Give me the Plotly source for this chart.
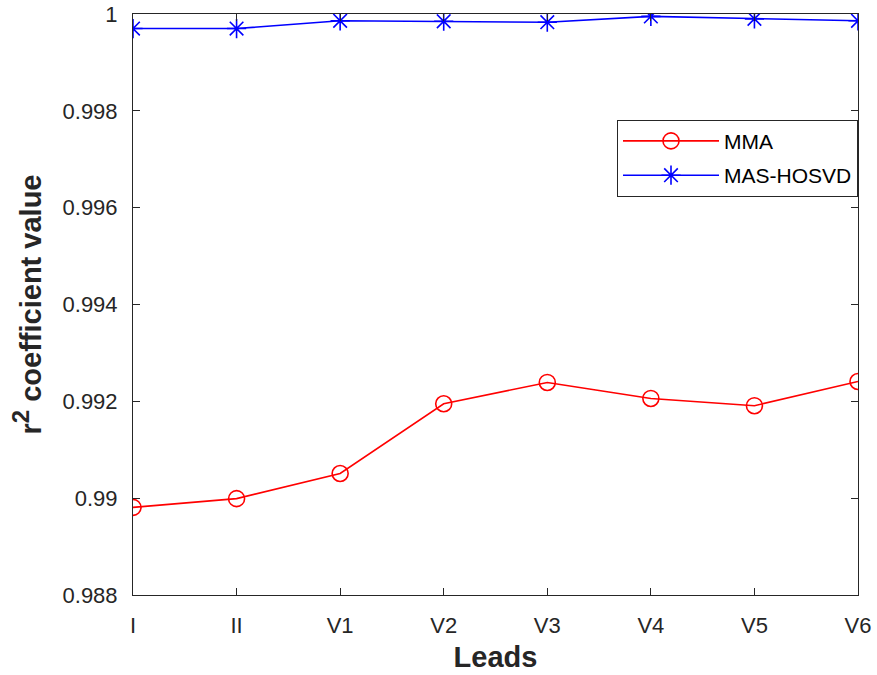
import plotly.graph_objects as go

leads = ["I", "II", "V1", "V2", "V3", "V4", "V5", "V6"]
mma = [0.98981, 0.98999, 0.99051, 0.99195, 0.99239, 0.99206, 0.99191, 0.99241]
mas_hosvd = [0.99970, 0.99970, 0.99986, 0.99985, 0.99983, 0.99995, 0.99990, 0.99986]
y_ticks = [0.988, 0.99, 0.992, 0.994, 0.996, 0.998, 1.0]
y_tick_text = ["0.988", "0.99", "0.992", "0.994", "0.996", "0.998", "1"]

x_pos = list(range(len(leads)))
axis_color = "#262626"
font_family = "Liberation Sans, Arial, sans-serif"

fig = go.Figure()
fig.add_trace(go.Scatter(
    x=x_pos, y=mma, name="MMA", mode="lines+markers", legendgroup="mma",
    line=dict(color="#ff0000", width=1.6),
    marker=dict(symbol="circle-open", size=16, color="#ff0000", line=dict(width=1.6)),
))
fig.add_trace(go.Scatter(
    x=x_pos, y=mas_hosvd, name="MAS-HOSVD", mode="lines+markers", legendgroup="hosvd",
    line=dict(color="#0000ff", width=1.6),
    marker=dict(symbol="asterisk-open", size=16, color="#0000ff", line=dict(width=1.6, color="#0000ff")),
))

fig.update_layout(
    width=877, height=675,
    margin=dict(l=133, r=19, t=14, b=80),
    paper_bgcolor="white", plot_bgcolor="white",
    font=dict(family=font_family, size=22, color=axis_color),
    showlegend=True,
    legend=dict(
        x=1, xanchor="right", y=0.818, yanchor="top",
        bordercolor=axis_color, borderwidth=1, bgcolor="white",
        font=dict(size=21, color="#000000"),
        itemwidth=96, traceorder="grouped", tracegroupgap=4,
    ),
)
fig.update_xaxes(
    range=[0, 7], tickvals=x_pos, ticktext=leads, automargin=False,
    showline=True, linecolor=axis_color, linewidth=1, mirror="ticks",
    ticks="inside", ticklen=7, tickcolor=axis_color, ticklabelstandoff=11,
    showgrid=False, zeroline=False,
    title=dict(text="<b>Leads</b>", font=dict(size=29, color=axis_color), standoff=9),
)
fig.update_yaxes(
    range=[0.988, 1.0], tickvals=y_ticks, ticktext=y_tick_text, automargin=False,
    showline=True, linecolor=axis_color, linewidth=1, mirror="ticks",
    ticks="inside", ticklen=7, tickcolor=axis_color, ticklabelstandoff=10,
    showgrid=False, zeroline=False,
    title=dict(
        text="<b>r<sup><span style='font-size:24px'>2</span></sup> coefficient value</b>",
        font=dict(size=29, color=axis_color), standoff=12,
    ),
)

fig.write_html("out.html")
